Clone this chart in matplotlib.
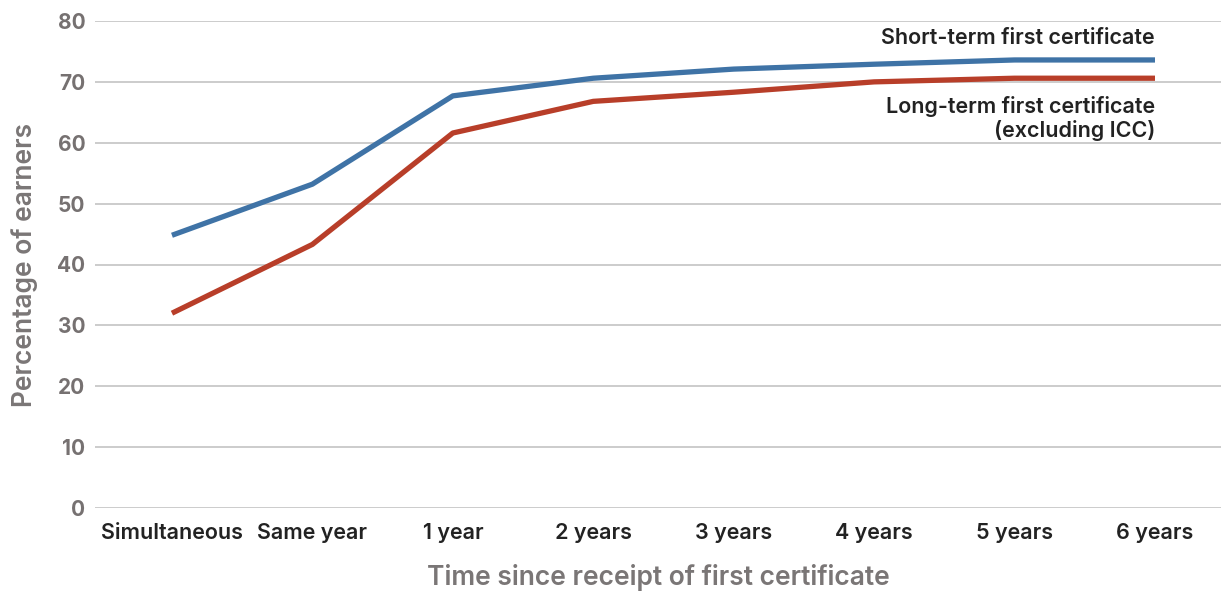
import matplotlib.pyplot as plt

categories = ["Simultaneous", "Same year", "1 year", "2 years", "3 years",
              "4 years", "5 years", "6 years"]
short_term = [44.8, 53.2, 67.7, 70.6, 72.1, 72.9, 73.6, 73.6]
long_term = [32.0, 43.3, 61.6, 66.8, 68.3, 70.0, 70.6, 70.6]
y_ticks = [0, 10, 20, 30, 40, 50, 60, 70, 80]

plt.rcParams['font.family'] = ['Inter', 'DejaVu Sans']

fig = plt.figure(figsize=(12.21, 5.96), dpi=100)
ax = fig.add_axes([95 / 1221, 1 - 508 / 596, 1126 / 1221, 487 / 596])

x = range(len(categories))
ax.plot(x, short_term, color="#3f73a6", linewidth=3.8, solid_capstyle="butt")
ax.plot(x, long_term, color="#b83e29", linewidth=3.8, solid_capstyle="butt")

ax.set_xlim(-0.548, 7.47)
ax.set_ylim(0, 80)
ax.set_yticks(y_ticks)
ax.set_xticks(list(x))
ax.set_xticklabels(categories, fontsize=15.5, fontweight="semibold", color="#222222")
ax.tick_params(axis="y", labelsize=15, labelcolor="#767171", length=0, pad=7)
ax.tick_params(axis="x", length=0, pad=11)
for lbl in ax.get_yticklabels():
    lbl.set_fontweight("bold")

ax.grid(axis="y", color="#c8c8c8", linewidth=1.3)
ax.set_axisbelow(True)
for s in ax.spines.values():
    s.set_visible(False)

ax.set_ylabel("Percentage of earners", fontsize=19, fontweight="semibold",
              color="#7a7676", labelpad=14)
ax.set_xlabel("Time since receipt of first certificate", fontsize=19,
              fontweight="semibold", color="#7a7676", labelpad=15)

ax.text(7.0, 77.2, "Short-term first certificate", ha="right", va="center",
        fontsize=15.5, fontweight="semibold", color="#222222")
ax.text(7.0, 64.0, "Long-term first certificate\n(excluding ICC)", ha="right",
        va="center", fontsize=15.5, fontweight="semibold", color="#222222",
        multialignment="right", linespacing=1.15)

fig.savefig("out.png", dpi=100)
